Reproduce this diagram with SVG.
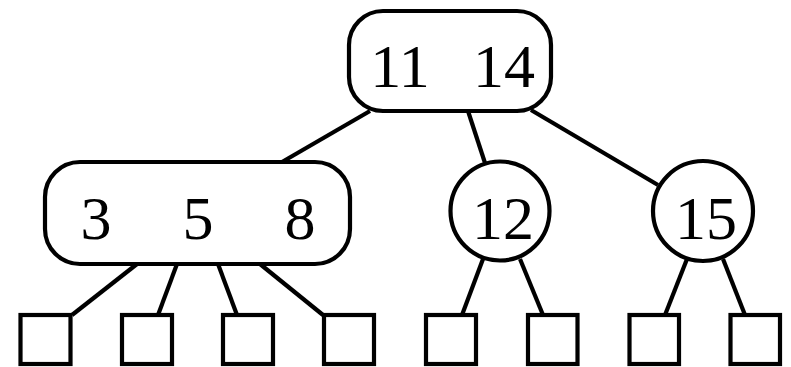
<svg xmlns="http://www.w3.org/2000/svg" width="791" height="367" viewBox="0 0 791 367">
<style>
.n{fill:#fff;stroke:#000;stroke-width:4.2}
.e{stroke:#000;stroke-width:4.2;fill:none}
.t{font-family:"Liberation Serif","Times New Roman",serif;font-size:62px;text-anchor:middle;fill:#000}
</style>
<rect width="791" height="367" fill="#fff"/>
<g id="edges">
<line class="e" x1="370" y1="111" x2="282" y2="162"/>
<line class="e" x1="468" y1="111" x2="485" y2="163"/>
<line class="e" x1="531" y1="110" x2="658" y2="185"/>
<line class="e" x1="137" y1="264" x2="72" y2="315"/>
<line class="e" x1="177" y1="264" x2="158" y2="315"/>
<line class="e" x1="218" y1="264" x2="237" y2="315"/>
<line class="e" x1="260" y1="264" x2="323" y2="315"/>
<line class="e" x1="483" y1="259" x2="462" y2="315"/>
<line class="e" x1="520" y1="259" x2="543" y2="315"/>
<line class="e" x1="687" y1="259" x2="665" y2="315"/>
<line class="e" x1="723" y1="259" x2="745" y2="315"/>
</g>
<g id="node-root">
<rect class="n" x="349" y="11" width="202" height="100" rx="34"/>
<text class="t" x="400" y="87">11</text>
<text class="t" x="504" y="87">14</text>
</g>
<g id="node-358">
<rect class="n" x="45" y="162" width="305" height="102" rx="35"/>
<text class="t" x="96" y="239">3</text>
<text class="t" x="198" y="239">5</text>
<text class="t" x="300" y="239">8</text>
</g>
<g id="node-12">
<circle class="n" cx="500" cy="211" r="49.5"/>
<text class="t" x="503" y="239">12</text>
</g>
<g id="node-15">
<circle class="n" cx="703" cy="211" r="50"/>
<text class="t" x="706" y="239">15</text>
</g>
<g id="leaf-1"><rect class="n" x="20.5" y="315" width="50" height="49"/></g>
<g id="leaf-2"><rect class="n" x="122" y="315" width="50" height="49"/></g>
<g id="leaf-3"><rect class="n" x="223" y="315" width="50" height="49"/></g>
<g id="leaf-4"><rect class="n" x="324" y="315" width="50" height="49"/></g>
<g id="leaf-5"><rect class="n" x="426" y="315" width="50" height="49"/></g>
<g id="leaf-6"><rect class="n" x="528" y="315" width="49.5" height="49"/></g>
<g id="leaf-7"><rect class="n" x="629.5" y="315" width="49.5" height="49"/></g>
<g id="leaf-8"><rect class="n" x="730.5" y="315" width="49.5" height="49"/></g>
</svg>
